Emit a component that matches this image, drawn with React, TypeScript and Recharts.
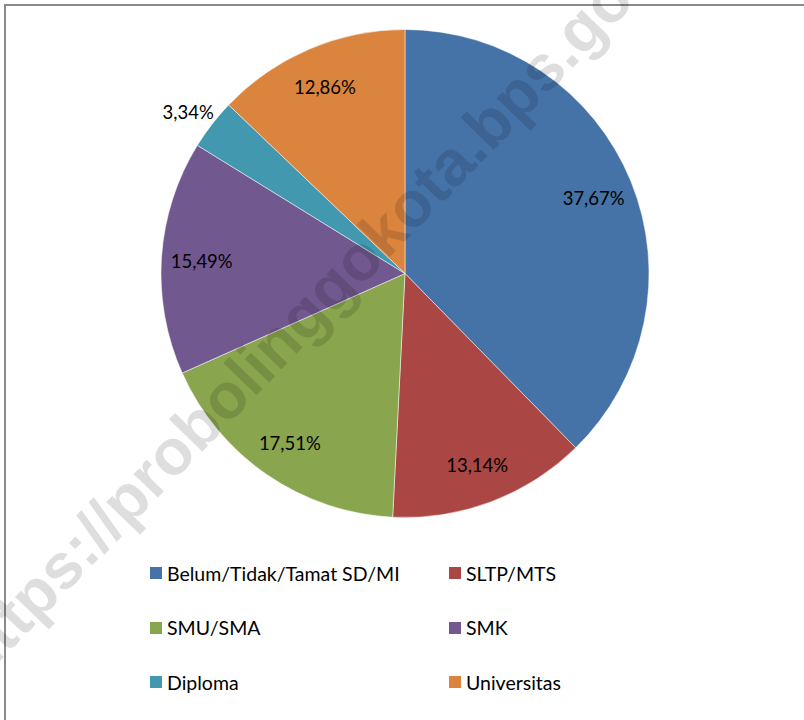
import React from "react";
import { PieChart, Pie, Cell, Legend } from "recharts";

// education level shares (%)
const categories = [
  "Belum/Tidak/Tamat SD/MI",
  "SLTP/MTS",
  "SMU/SMA",
  "SMK",
  "Diploma",
  "Universitas",
];
const shares = [37.67, 13.14, 17.51, 15.49, 3.34, 12.86];
const colors = ["#4572A7", "#AA4643", "#89A54E", "#71588F", "#4198AF", "#DB843D"];
const watermark = "https://probolinggokota.bps.go.id";

const data = categories.map((name, i) => ({ name, value: shares[i] }));

const FONT = "Lato, 'Open Sans', sans-serif";
const RADIAN = Math.PI / 180;

const renderLabel = (props: any) => {
  const { cx, cy, midAngle, outerRadius, value } = props;
  // small slices get their label outside the pie
  const outside = value < 5;
  const r = outside ? outerRadius + 30 : outerRadius * 0.835;
  const x = cx + r * Math.cos(-midAngle * RADIAN);
  const y = cy + r * Math.sin(-midAngle * RADIAN) + (outside ? 6 : 1);
  return (
    <text
      x={x}
      y={y}
      textAnchor="middle"
      dominantBaseline="central"
      fill="#000"
      style={{ fontFamily: FONT, fontSize: 18.5 }}
    >
      {value.toFixed(2).replace(".", ",")}%
    </text>
  );
};

const LegendContent = () => (
  <div
    style={{
      display: "grid",
      gridTemplateColumns: "299px 200px",
      fontFamily: FONT,
      fontSize: 19.5,
      color: "#000",
    }}
  >
    {data.map((d, i) => (
      <div key={d.name} style={{ display: "flex", alignItems: "center", height: 54.5 }}>
        <div style={{ width: 12, height: 12, background: colors[i], marginRight: 5, flexShrink: 0 }} />
        <span style={{ whiteSpace: "nowrap" }}>{d.name}</span>
      </div>
    ))}
  </div>
);

export default function App() {
  return (
    <div
      style={{
        position: "absolute",
        left: 0,
        top: 0,
        width: 804,
        height: 720,
        overflow: "hidden",
        background: "#fff",
      }}
    >
      <div
        style={{
          position: "absolute",
          left: 4,
          top: 4,
          width: 900,
          height: 900,
          border: "2px solid #8a8a8a",
        }}
      />
      <PieChart width={804} height={720} margin={{ top: 0, right: 0, bottom: 0, left: 0 }}>
        <Pie
          data={data}
          dataKey="value"
          nameKey="name"
          cx={405}
          cy={273.5}
          outerRadius={244}
          startAngle={90}
          endAngle={-270}
          stroke="#ffffff"
          strokeWidth={0.5}
          label={renderLabel}
          labelLine={false}
          isAnimationActive={false}
        >
          {data.map((d, i) => (
            <Cell key={d.name} fill={colors[i]} />
          ))}
        </Pie>
        <Legend
          content={<LegendContent />}
          wrapperStyle={{ position: "absolute", left: 150, top: 546, width: 560 }}
        />
      </PieChart>
      <svg
        width={804}
        height={720}
        style={{ position: "absolute", left: 0, top: 0, pointerEvents: "none" }}
      >
        <text
          x={318}
          y={300}
          textAnchor="middle"
          dominantBaseline="central"
          transform="rotate(-46 318 300)"
          fill="rgba(0,0,0,0.13)"
          style={{ fontFamily: "'Liberation Sans', Arial, sans-serif", fontWeight: 700, fontSize: 64 }}
        >
          {watermark}
        </text>
      </svg>
    </div>
  );
}
